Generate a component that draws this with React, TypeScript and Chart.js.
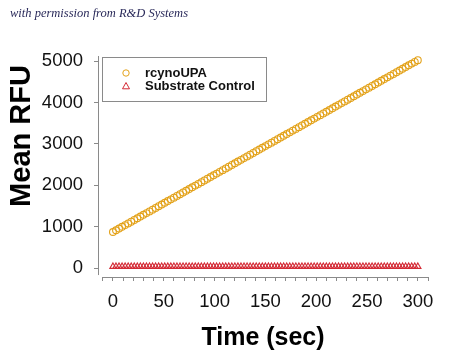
import React, { useEffect, useRef } from "react";
import { Chart, registerables } from "chart.js";

Chart.register(...registerables);

const titleText = "with permission from R&D Systems";
const xAxisTitle = "Time (sec)";
const yAxisTitle = "Mean RFU";
const seriesNames = ["rcynoUPA", "Substrate Control"];

const xTickValues = [-10, 0, 10, 20, 30, 40, 50, 60, 70, 80, 90, 100, 110, 120, 130, 140, 150, 160, 170, 180, 190, 200, 210, 220, 230, 240, 250, 260, 270, 280, 290, 300, 310];
const xLabelValues = [0, 50, 100, 150, 200, 250, 300];
const yTickValues = [0, 1000, 2000, 3000, 4000, 5000];
const xAxisLineRange = [-10, 310];
const yAxisLineRange = [-170, 5121];

const timeSec = [
  0, 3, 6, 9, 12, 15, 18, 21, 24, 27, 30, 33, 36, 39, 42, 45, 48, 51, 54, 57,
  60, 63, 66, 69, 72, 75, 78, 81, 84, 87, 90, 93, 96, 99, 102, 105, 108, 111, 114, 117,
  120, 123, 126, 129, 132, 135, 138, 141, 144, 147, 150, 153, 156, 159, 162, 165, 168, 171, 174, 177,
  180, 183, 186, 189, 192, 195, 198, 201, 204, 207, 210, 213, 216, 219, 222, 225, 228, 231, 234, 237,
  240, 243, 246, 249, 252, 255, 258, 261, 264, 267, 270, 273, 276, 279, 282, 285, 288, 291, 294, 297, 300,
];

const rcynoUPA = [
  870, 912, 953, 995, 1036, 1078, 1119, 1161, 1202, 1244, 1285, 1327, 1368, 1410, 1451, 1493, 1534, 1576, 1617, 1659,
  1700, 1742, 1783, 1825, 1866, 1908, 1949, 1991, 2032, 2074, 2115, 2157, 2198, 2240, 2281, 2323, 2364, 2406, 2447, 2489,
  2530, 2572, 2613, 2655, 2696, 2738, 2779, 2821, 2862, 2904, 2945, 2987, 3028, 3070, 3111, 3153, 3194, 3236, 3277, 3319,
  3360, 3402, 3443, 3485, 3526, 3568, 3609, 3651, 3692, 3734, 3775, 3817, 3858, 3900, 3941, 3983, 4024, 4066, 4107, 4149,
  4190, 4232, 4273, 4315, 4356, 4398, 4439, 4481, 4522, 4564, 4605, 4647, 4688, 4730, 4771, 4813, 4854, 4896, 4937, 4979, 5020,
];

const substrateControl = [
  35, 35, 36, 35, 35, 36, 35, 35, 35, 36, 35, 35, 36, 35, 35, 35, 36, 35, 35, 35,
  36, 35, 35, 35, 36, 35, 35, 35, 36, 35, 35, 35, 36, 35, 35, 35, 36, 35, 35, 35,
  36, 35, 35, 35, 36, 35, 35, 35, 36, 35, 35, 35, 36, 35, 35, 35, 36, 35, 35, 35,
  36, 35, 35, 35, 36, 35, 35, 35, 36, 35, 35, 35, 36, 35, 35, 35, 36, 35, 35, 35,
  36, 35, 35, 35, 36, 35, 35, 35, 36, 35, 35, 35, 36, 35, 35, 35, 36, 35, 35, 35, 35,
];

const ORANGE = "#E3A21A";
const RED = "#D42A35";
const AXIS = "#8a8a8a";
const FONT = "'Liberation Sans', Arial, sans-serif";

const customPlugin = {
  id: "customDecor",
  afterDraw(chart: any) {
    const ctx = chart.ctx;
    const ca = chart.chartArea;
    const xs = chart.scales.x;
    const ys = chart.scales.y;

    // axis lines (R-style, detached)
    ctx.save();
    ctx.strokeStyle = AXIS;
    ctx.lineWidth = 1;
    ctx.beginPath();
    const xl = Math.round(ca.left) + 0.5;
    ctx.moveTo(xl, ys.getPixelForValue(yAxisLineRange[1]));
    ctx.lineTo(xl, ys.getPixelForValue(yAxisLineRange[0]));
    const yb = Math.round(ca.bottom) + 0.5;
    ctx.moveTo(xs.getPixelForValue(xAxisLineRange[0]), yb);
    ctx.lineTo(xs.getPixelForValue(xAxisLineRange[1]), yb);
    ctx.stroke();
    ctx.restore();

    // y axis title
    ctx.save();
    ctx.fillStyle = "#000";
    ctx.font = `bold 29px ${FONT}`;
    ctx.textAlign = "center";
    ctx.textBaseline = "middle";
    ctx.translate(22, 136);
    ctx.rotate(-Math.PI / 2);
    ctx.fillText(yAxisTitle, 0, 0);
    ctx.restore();

    // legend
    ctx.save();
    const bx = ca.left + 4;
    const by = ca.top + 1;
    ctx.strokeStyle = AXIS;
    ctx.lineWidth = 1;
    ctx.strokeRect(bx + 0.5, by + 0.5, 164, 44);
    const ds = chart.data.datasets;
    const rows = [by + 16, by + 29];
    ds.forEach((d: any, i: number) => {
      const cx = bx + 24;
      const cy = rows[i];
      ctx.strokeStyle = d.borderColor;
      ctx.lineWidth = 1;
      ctx.beginPath();
      if (d.pointStyle === "triangle") {
        const r = 3.5;
        ctx.moveTo(cx, cy - r);
        ctx.lineTo(cx + r, cy + r * 0.8);
        ctx.lineTo(cx - r, cy + r * 0.8);
        ctx.closePath();
      } else {
        ctx.arc(cx, cy, 3.2, 0, Math.PI * 2);
      }
      ctx.stroke();
      ctx.fillStyle = "#111";
      ctx.font = `bold 13px ${FONT}`;
      ctx.textAlign = "left";
      ctx.textBaseline = "middle";
      ctx.fillText(d.label, bx + 43, cy);
    });
    ctx.restore();
  },
};

export default function App() {
  const canvasRef = useRef<HTMLCanvasElement | null>(null);

  useEffect(() => {
    if (!canvasRef.current) return;
    const chart = new Chart(canvasRef.current, {
      type: "scatter",
      data: {
        datasets: [
          {
            label: seriesNames[0],
            data: timeSec.map((t, i) => ({ x: t, y: rcynoUPA[i] })),
            pointStyle: "circle",
            pointRadius: 3.4,
            borderColor: ORANGE,
            backgroundColor: "rgba(255,255,255,0)",
            borderWidth: 1.1,
          },
          {
            label: seriesNames[1],
            data: timeSec.map((t, i) => ({ x: t, y: substrateControl[i] })),
            pointStyle: "triangle",
            pointRadius: 3.6,
            borderColor: RED,
            backgroundColor: "rgba(255,255,255,0)",
            borderWidth: 1.1,
          },
        ],
      },
      options: {
        responsive: false,
        animation: false,
        layout: { padding: { top: 56, right: 22, left: 0, bottom: 0 } },
        plugins: {
          legend: { display: false },
          tooltip: { enabled: false },
        },
        scales: {
          x: {
            type: "linear",
            min: -14.7,
            max: 310,
            afterBuildTicks: (s: any) => {
              s.ticks = xTickValues.map((v) => ({ value: v }));
            },
            afterFit: (s: any) => {
              s.height = 77;
            },
            ticks: {
              autoSkip: false,
              maxRotation: 0,
              padding: 10,
              color: "#111",
              font: { family: FONT, size: 18.5 },
              callback: (v: any) => (xLabelValues.includes(Number(v)) ? String(v) : ""),
            },
            grid: { drawOnChartArea: false, drawTicks: true, tickLength: 4, color: AXIS },
            border: { display: false },
            title: {
              display: true,
              text: xAxisTitle,
              color: "#000",
              font: { family: FONT, size: 25, weight: "bold" },
              padding: { top: 0, bottom: 1 },
            },
          },
          y: {
            type: "linear",
            min: -217,
            max: 5121,
            afterBuildTicks: (s: any) => {
              s.ticks = yTickValues.map((v) => ({ value: v }));
            },
            afterFit: (s: any) => {
              s.width = 98;
            },
            ticks: {
              autoSkip: false,
              padding: 11,
              color: "#111",
              font: { family: FONT, size: 18.5 },
              callback: (v: any) => String(v),
            },
            grid: { drawOnChartArea: false, drawTicks: true, tickLength: 4, color: AXIS },
            border: { display: false },
          },
        },
      },
      plugins: [customPlugin],
    });
    return () => chart.destroy();
  }, []);

  return (
    <div style={{ position: "fixed", left: 0, top: 0, width: 450, height: 354, background: "#fff" }}>
      <div
        style={{
          position: "absolute",
          left: 10,
          top: 6,
          fontFamily: "'Liberation Serif', 'DejaVu Serif', serif",
          fontStyle: "italic",
          fontSize: 12.5,
          color: "#2a2a5a",
          whiteSpace: "nowrap",
        }}
      >
        {titleText}
      </div>
      <canvas ref={canvasRef} width={450} height={354} style={{ display: "block" }} />
    </div>
  );
}
